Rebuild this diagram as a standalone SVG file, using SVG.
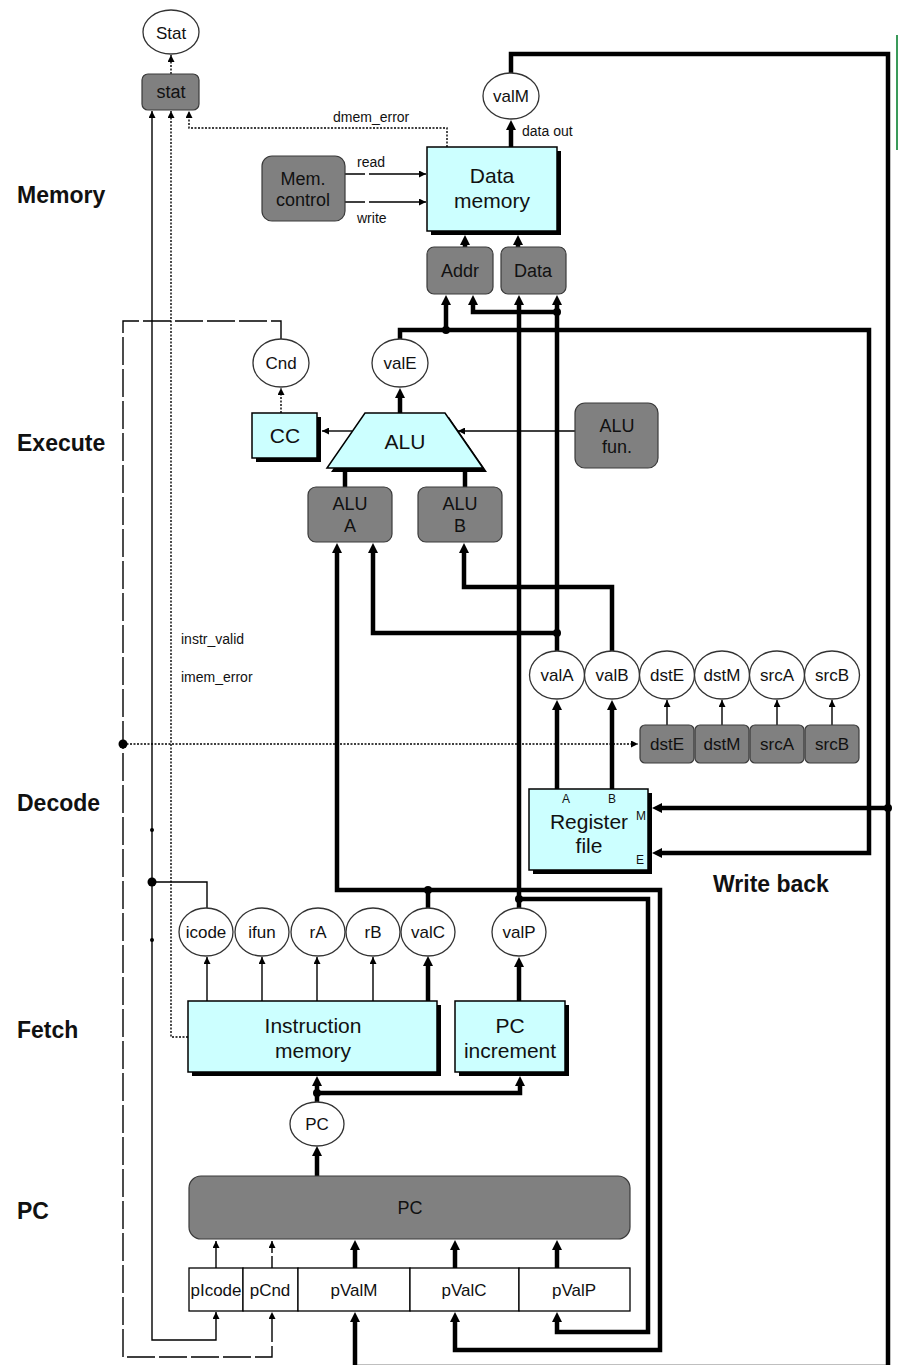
<svg xmlns="http://www.w3.org/2000/svg" width="899" height="1365" viewBox="0 0 899 1365">
<style>
text{font-family:"Liberation Sans",Arial,sans-serif;fill:#111}
.stage{font-size:23px;font-weight:bold}
.lbl{font-size:14px}
.t17{font-size:17px;text-anchor:middle}
.t18{font-size:18px;text-anchor:middle}
.t21{font-size:21px;text-anchor:middle}
.t13{font-size:12px;text-anchor:middle}
.thin{stroke:#000;stroke-width:1.4;fill:none}
.thick{stroke:#000;stroke-width:4.5;fill:none}
.dotl{stroke-dasharray:2 1.5}
.dash{stroke-dasharray:28 4}
.cyan{fill:#ccffff;stroke:#000;stroke-width:1.5}
.shadow{fill:#000}
.gray{fill:#808080;stroke:#3a3a3a;stroke-width:1.2}
.ell{fill:#fff;stroke:#333;stroke-width:1.3}
.row{fill:#fff;stroke:#000;stroke-width:1.3}
.jd{fill:#000}
</style>
<defs>
<marker id="a" viewBox="0 0 10 10" refX="10" refY="5" markerWidth="7" markerHeight="7" markerUnits="userSpaceOnUse" orient="auto"><path d="M0,0L10,5L0,10z"/></marker>
<marker id="A" viewBox="0 0 10 10" refX="4" refY="5" markerWidth="10" markerHeight="10" markerUnits="userSpaceOnUse" orient="auto"><path d="M0,0L10,5L0,10z"/></marker>
</defs>
<rect width="899" height="1365" fill="#fff"/>
<line x1="897" y1="35" x2="897" y2="150" stroke="#3a9a5a" stroke-width="2"/>

<g id="stage-labels">
<text class="stage" x="17" y="203">Memory</text>
<text class="stage" x="17" y="451">Execute</text>
<text class="stage" x="17" y="811">Decode</text>
<text class="stage" x="17" y="1038">Fetch</text>
<text class="stage" x="17" y="1219">PC</text>
<text class="stage" x="713" y="892">Write back</text>
</g>

<g id="connectors">
<path class="thin dotl" d="M171,74V55" marker-end="url(#a)"/>
<path class="thin" d="M207,909V882H152"/>
<path class="thin" d="M152,882V111" marker-end="url(#a)"/>
<path class="thin" d="M152,882V1340H216V1312" marker-end="url(#a)"/>
<path class="thin dotl" d="M188,1037H171V111" marker-end="url(#a)"/>
<path class="thin dotl" d="M447,147V128H189V111" marker-end="url(#a)"/>
<path class="thin dash" d="M281,339V321H123V1357H272V1312" marker-end="url(#a)"/>
<path class="thin dotl" d="M123,744H638" marker-end="url(#a)"/>
<path class="thin" d="M216,1268V1241" marker-end="url(#a)"/>
<path class="thin" style="stroke-dasharray:12 3" d="M272,1268V1241" marker-end="url(#a)"/>
<path class="thin" d="M207,1001V957" marker-end="url(#a)"/>
<path class="thin" d="M262,1001V957" marker-end="url(#a)"/>
<path class="thin" d="M317,1001V957" marker-end="url(#a)"/>
<path class="thin" d="M373,1001V957" marker-end="url(#a)"/>
<path class="thin" d="M667,725V700" marker-end="url(#a)"/>
<path class="thin" d="M722,725V700" marker-end="url(#a)"/>
<path class="thin" d="M777,725V700" marker-end="url(#a)"/>
<path class="thin" d="M832,725V700" marker-end="url(#a)"/>
<path class="thin" d="M352,431H322" marker-end="url(#a)"/>
<path class="thin" d="M575,431H458" marker-end="url(#a)"/>
<path class="thin dotl" d="M281,413V388" marker-end="url(#a)"/>
<path class="thin" style="stroke-dasharray:20 4 200" d="M345,174H426" marker-end="url(#a)"/>
<path class="thin" style="stroke-dasharray:20 4 200" d="M345,202H426" marker-end="url(#a)"/>
<path class="thick" d="M511,147V126" marker-end="url(#A)"/>
<path class="thick" d="M511,73V54H888V1367H355V1318" marker-end="url(#A)"/>
<path class="thick" d="M888,808H658" marker-end="url(#A)"/>
<path class="thick" d="M400,413V394" marker-end="url(#A)"/>
<path class="thick" d="M400,339V330H869V853H658" marker-end="url(#A)"/>
<path class="thick" d="M446,330V301" marker-end="url(#A)"/>
<path class="thick" d="M557,651V301" marker-end="url(#A)"/>
<path class="thick" d="M557,312H473V301" marker-end="url(#A)"/>
<path class="thick" d="M557,633H373V549" marker-end="url(#A)"/>
<path class="thick" d="M612,651V587H464V549" marker-end="url(#A)"/>
<path class="thick" d="M557,789V706" marker-end="url(#A)"/>
<path class="thick" d="M612,789V706" marker-end="url(#A)"/>
<path class="thick" d="M428,1001V962" marker-end="url(#A)"/>
<path class="thick" d="M428,908V890"/>
<path class="thick" d="M428,890H337V549" marker-end="url(#A)"/>
<path class="thick" d="M428,890H660V1350H455V1318" marker-end="url(#A)"/>
<path class="thick" d="M519,1001V963" marker-end="url(#A)"/>
<path class="thick" d="M519,908V899"/>
<path class="thick" d="M519,899V301" marker-end="url(#A)"/>
<path class="thick" d="M519,899H648V1332H557V1318" marker-end="url(#A)"/>
<path class="thick" d="M465,247V241" marker-end="url(#A)"/>
<path class="thick" d="M518,247V241" marker-end="url(#A)"/>
<path class="thick" d="M345,487V468"/>
<path class="thick" d="M465,487V468"/>
<path class="thick" d="M317,1176V1152" marker-end="url(#A)"/>
<path class="thick" d="M317,1102V1082" marker-end="url(#A)"/>
<path class="thick" d="M317,1093H520V1082" marker-end="url(#A)"/>
<path class="thick" d="M355,1268V1246" marker-end="url(#A)"/>
<path class="thick" d="M455,1268V1246" marker-end="url(#A)"/>
<path class="thick" d="M557,1268V1246" marker-end="url(#A)"/>
<circle class="jd" cx="152" cy="882" r="4.5"/>
<circle class="jd" cx="152" cy="830" r="2"/>
<circle class="jd" cx="152" cy="940" r="2"/>
<circle class="jd" cx="123" cy="744" r="4.5"/>
<circle class="jd" cx="888" cy="808" r="4"/>
<circle class="jd" cx="446" cy="330" r="4"/>
<circle class="jd" cx="557" cy="312" r="4"/>
<circle class="jd" cx="557" cy="633" r="4"/>
<circle class="jd" cx="428" cy="890" r="4"/>
<circle class="jd" cx="519" cy="899" r="4"/>
<circle class="jd" cx="317" cy="1093" r="4"/>
<text class="lbl" x="333" y="122">dmem_error</text>
<text class="lbl" x="357" y="167">read</text>
<text class="lbl" x="357" y="223">write</text>
<text class="lbl" x="522" y="136">data out</text>
<text class="lbl" x="181" y="644">instr_valid</text>
<text class="lbl" x="181" y="682">imem_error</text>
</g>

<g id="Stat"><ellipse class="ell" cx="171" cy="32" rx="28" ry="22"/><text class="t17" x="171" y="39">Stat</text></g>
<g id="stat"><rect class="gray" x="142" y="74" width="57" height="36" rx="6"/><text class="t18" x="171" y="98">stat</text></g>
<g id="mem-control"><rect class="gray" x="262" y="156" width="83" height="65" rx="10"/><text class="t18" x="303" y="185">Mem.</text><text class="t18" x="303" y="206">control</text></g>
<g id="data-memory"><rect class="shadow" x="431" y="151" width="130" height="84"/><rect class="cyan" x="427" y="147" width="130" height="84"/><text class="t21" x="492" y="183">Data</text><text class="t21" x="492" y="208">memory</text></g>
<g id="valM"><ellipse class="ell" cx="511" cy="96" rx="28" ry="23"/><text class="t17" x="511" y="102">valM</text></g>
<g id="Addr"><rect class="gray" x="427" y="247" width="66" height="47" rx="7"/><text class="t18" x="460" y="277">Addr</text></g>
<g id="Data"><rect class="gray" x="501" y="247" width="65" height="47" rx="7"/><text class="t18" x="533" y="277">Data</text></g>
<g id="Cnd"><ellipse class="ell" cx="281" cy="363" rx="28" ry="24"/><text class="t17" x="281" y="369">Cnd</text></g>
<g id="valE"><ellipse class="ell" cx="400" cy="363" rx="28" ry="24"/><text class="t17" x="400" y="369">valE</text></g>
<g id="CC"><rect class="shadow" x="256" y="417" width="65" height="45"/><rect class="cyan" x="252" y="413" width="65" height="45"/><text class="t21" x="285" y="443">CC</text></g>
<g id="ALU"><polygon class="shadow" points="369,417 449,417 487,472 331,472"/><polygon class="cyan" points="365,413 445,413 483,468 327,468"/><text class="t21" x="405" y="449">ALU</text></g>
<g id="ALU-fun"><rect class="gray" x="575" y="403" width="83" height="65" rx="10"/><text class="t18" x="617" y="432">ALU</text><text class="t18" x="617" y="453">fun.</text></g>
<g id="ALU-A"><rect class="gray" x="308" y="487" width="84" height="55" rx="8"/><text class="t18" x="350" y="510">ALU</text><text class="t18" x="350" y="532">A</text></g>
<g id="ALU-B"><rect class="gray" x="418" y="487" width="84" height="55" rx="8"/><text class="t18" x="460" y="510">ALU</text><text class="t18" x="460" y="532">B</text></g>
<g id="valA"><ellipse class="ell" cx="557" cy="675" rx="27.5" ry="24"/><text class="t17" x="557" y="681">valA</text></g>
<g id="valB"><ellipse class="ell" cx="612" cy="675" rx="27.5" ry="24"/><text class="t17" x="612" y="681">valB</text></g>
<g id="dstE-out"><ellipse class="ell" cx="667" cy="675" rx="27.5" ry="24"/><text class="t17" x="667" y="681">dstE</text></g>
<g id="dstM-out"><ellipse class="ell" cx="722" cy="675" rx="27.5" ry="24"/><text class="t17" x="722" y="681">dstM</text></g>
<g id="srcA-out"><ellipse class="ell" cx="777" cy="675" rx="27.5" ry="24"/><text class="t17" x="777" y="681">srcA</text></g>
<g id="srcB-out"><ellipse class="ell" cx="832" cy="675" rx="27.5" ry="24"/><text class="t17" x="832" y="681">srcB</text></g>
<g id="dstE"><rect class="gray" x="640" y="725" width="54" height="38" rx="5"/><text class="t17" x="667" y="750">dstE</text></g>
<g id="dstM"><rect class="gray" x="695" y="725" width="54" height="38" rx="5"/><text class="t17" x="722" y="750">dstM</text></g>
<g id="srcA"><rect class="gray" x="750" y="725" width="54" height="38" rx="5"/><text class="t17" x="777" y="750">srcA</text></g>
<g id="srcB"><rect class="gray" x="805" y="725" width="54" height="38" rx="5"/><text class="t17" x="832" y="750">srcB</text></g>
<g id="register-file"><rect class="shadow" x="533" y="793" width="119" height="81"/><rect class="cyan" x="529" y="789" width="119" height="81"/><text class="t21" x="589" y="829">Register</text><text class="t21" x="589" y="853">file</text><text class="t13" x="566" y="803">A</text><text class="t13" x="612" y="803">B</text><text class="t13" x="641" y="820">M</text><text class="t13" x="640" y="864">E</text></g>
<g id="icode"><ellipse class="ell" cx="206" cy="932" rx="27" ry="24"/><text class="t17" x="206" y="938">icode</text></g>
<g id="ifun"><ellipse class="ell" cx="262" cy="932" rx="27" ry="24"/><text class="t17" x="262" y="938">ifun</text></g>
<g id="rA"><ellipse class="ell" cx="318" cy="932" rx="27" ry="24"/><text class="t17" x="318" y="938">rA</text></g>
<g id="rB"><ellipse class="ell" cx="373" cy="932" rx="27" ry="24"/><text class="t17" x="373" y="938">rB</text></g>
<g id="valC"><ellipse class="ell" cx="428" cy="932" rx="27" ry="24"/><text class="t17" x="428" y="938">valC</text></g>
<g id="valP"><ellipse class="ell" cx="519" cy="932" rx="27" ry="24"/><text class="t17" x="519" y="938">valP</text></g>
<g id="instruction-memory"><rect class="shadow" x="192" y="1005" width="249" height="71"/><rect class="cyan" x="188" y="1001" width="249" height="71"/><text class="t21" x="313" y="1033">Instruction</text><text class="t21" x="313" y="1058">memory</text></g>
<g id="pc-increment"><rect class="shadow" x="459" y="1005" width="110" height="71"/><rect class="cyan" x="455" y="1001" width="110" height="71"/><text class="t21" x="510" y="1033">PC</text><text class="t21" x="510" y="1058">increment</text></g>
<g id="PC-value"><ellipse class="ell" cx="317" cy="1124" rx="27" ry="22"/><text class="t17" x="317" y="1130">PC</text></g>
<g id="PC"><rect class="gray" x="189" y="1176" width="441" height="63" rx="12"/><text class="t18" x="410" y="1214">PC</text></g>
<g id="pIcode"><rect class="row" x="189" y="1268" width="54" height="43"/><text class="t17" x="216" y="1296">pIcode</text></g>
<g id="pCnd"><rect class="row" x="243" y="1268" width="55" height="43"/><text class="t17" x="270" y="1296">pCnd</text></g>
<g id="pValM"><rect class="row" x="298" y="1268" width="112" height="43"/><text class="t17" x="354" y="1296">pValM</text></g>
<g id="pValC"><rect class="row" x="410" y="1268" width="109" height="43"/><text class="t17" x="464" y="1296">pValC</text></g>
<g id="pValP"><rect class="row" x="519" y="1268" width="111" height="43"/><text class="t17" x="574" y="1296">pValP</text></g>
</svg>
